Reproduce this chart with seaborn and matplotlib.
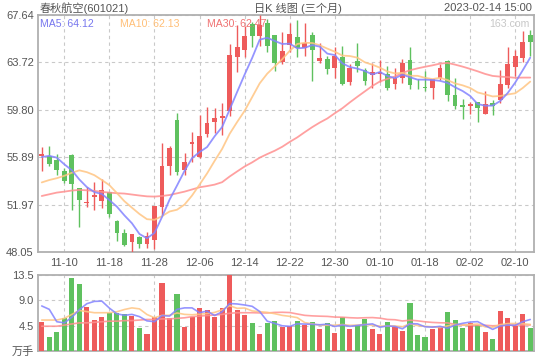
import numpy as np
import pandas as pd
import matplotlib
matplotlib.use("Agg")
import matplotlib.pyplot as plt
import seaborn as sns

# ---------------- data ----------------
dates = ["11-07", "11-08", "11-09", "11-10", "11-11", "11-14", "11-15", "11-16", "11-17", "11-18",
         "11-21", "11-22", "11-23", "11-24", "11-25", "11-28", "11-29", "11-30", "12-01", "12-02",
         "12-05", "12-06", "12-07", "12-08", "12-09", "12-12", "12-13", "12-14", "12-15", "12-16",
         "12-19", "12-20", "12-21", "12-22", "12-23", "12-26", "12-27", "12-28", "12-29", "12-30",
         "01-03", "01-04", "01-05", "01-06", "01-09", "01-10", "01-11", "01-12", "01-13", "01-16",
         "01-17", "01-18", "01-19", "01-20", "01-30", "01-31", "02-01", "02-02", "02-03", "02-06",
         "02-07", "02-08", "02-09", "02-10", "02-13", "02-14"]

opens = [55.96, 56.01, 55.62, 54.76, 56.04, 53.32, 52.11, 52.63, 52.24, 53.04,
         50.63, 49.58, 48.88, 49.25, 48.75, 49.02, 51.80, 55.13, 58.95, 54.85,
         56.95, 55.90, 57.84, 58.78, 59.12, 59.70, 64.19, 64.75, 66.90, 65.88,
         67.00, 66.00, 63.77, 65.16, 65.80, 64.89, 66.00, 63.86, 64.00, 63.30,
         64.15, 62.11, 63.80, 63.08, 62.67, 62.74, 62.78, 61.90, 62.44, 63.91,
         61.97, 61.72, 61.62, 62.44, 63.86, 61.00, 60.17, 60.10, 60.45, 59.45,
         60.39, 60.60, 61.84, 63.36, 64.08, 65.95]
highs = [56.73, 56.79, 56.18, 54.98, 56.18, 53.32, 53.46, 53.85, 54.07, 53.04,
         50.69, 49.92, 49.52, 49.41, 49.74, 51.85, 57.07, 56.85, 59.51, 56.23,
         58.01, 59.40, 60.06, 59.95, 60.39, 65.24, 66.83, 66.72, 67.10, 67.60,
         67.33, 66.00, 66.22, 66.99, 67.20, 66.99, 66.22, 65.33, 64.28, 64.97,
         65.05, 63.58, 65.33, 63.30, 63.66, 63.90, 63.39, 63.22, 64.00, 64.97,
         62.33, 63.03, 62.39, 63.58, 63.94, 62.47, 60.67, 60.45, 60.45, 61.36,
         60.61, 63.11, 64.97, 64.75, 66.35, 66.44]
lows = [54.71, 55.18, 54.43, 53.74, 51.52, 50.13, 51.74, 51.52, 51.66, 50.97,
        48.97, 48.53, 48.05, 48.42, 48.36, 48.33, 51.10, 54.43, 54.43, 54.43,
        55.46, 55.82, 57.56, 57.90, 57.76, 59.28, 62.94, 64.19, 64.97, 65.05,
        64.61, 63.03, 63.58, 64.55, 64.14, 64.28, 62.19, 63.66, 62.75, 62.47,
        61.84, 61.83, 62.94, 61.83, 61.60, 62.10, 61.45, 61.50, 62.00, 61.50,
        61.50, 61.36, 60.70, 62.28, 60.53, 59.84, 59.06, 59.42, 58.78, 59.42,
        59.34, 60.39, 61.64, 62.60, 63.72, 64.28]
closes = [56.18, 55.35, 54.85, 53.96, 53.71, 52.35, 52.21, 52.77, 53.18, 51.19,
          49.63, 48.61, 49.52, 48.75, 49.41, 51.85, 55.18, 56.65, 54.65, 55.46,
          57.12, 57.67, 58.73, 59.09, 59.29, 64.33, 64.97, 65.94, 65.94, 66.83,
          65.11, 63.66, 64.69, 66.08, 64.89, 65.33, 64.77, 64.05, 63.20, 64.28,
          61.92, 63.25, 63.39, 62.20, 62.90, 62.90, 61.61, 62.47, 63.66, 61.85,
          61.90, 61.60, 62.33, 63.30, 61.00, 60.11, 60.05, 60.30, 59.95, 60.30,
          60.15, 61.95, 63.60, 64.28, 65.38, 65.38]
volumes = [5.14, 2.54, 3.43, 5.85, 13.0, 11.87, 7.86, 5.49, 6.08, 6.79,
           6.79, 6.56, 6.30, 4.10, 3.00, 6.10, 12.0, 5.80, 10.1, 4.30,
           6.10, 7.70, 7.30, 6.10, 7.60, 13.47, 7.30, 6.40, 4.90, 3.00,
           4.90, 5.30, 4.30, 4.40, 5.30, 4.60, 5.10, 3.90, 4.90, 3.20,
           6.00, 3.90, 4.70, 5.60, 3.90, 3.00, 5.10, 4.20, 3.50, 8.50,
           2.80, 2.50, 3.90, 4.20, 6.90, 5.50, 4.10, 5.00, 4.60, 3.40,
           2.10, 7.10, 5.80, 4.40, 6.60, 4.10]

# moving-average values before a full window is available
ma5_head = [55.90, 56.00, 55.85, 55.30]
ma10_head = [53.80, 54.00, 54.15, 54.35, 54.60, 54.80, 54.65, 54.40, 54.00]
ma30_head = [52.68, 52.82, 52.96, 53.04, 53.13, 53.18, 53.15, 53.10, 53.02, 52.96,
             52.91, 52.88, 52.80, 52.72, 52.65, 52.63, 52.68, 52.76, 52.90, 53.04,
             53.22, 53.40, 53.50, 53.62, 53.82, 54.29, 54.71, 55.12, 55.46]
vma5_head = [8.0, 7.4, 5.2, 5.0]
vma10_head = [5.5, 5.5, 5.5, 5.8, 6.5, 7.2, 7.0, 6.8, 6.8]
vma30_head = [4.4, 4.4, 4.4, 4.6, 4.8, 5.0, 5.0, 5.1, 5.2, 5.3,
              5.3, 5.4, 5.4, 5.5, 5.6, 5.6, 5.7, 5.7, 5.8, 5.9,
              6.1, 6.2, 6.3, 6.4, 6.5, 6.7, 6.8, 6.8, 6.8]

price_ticks = [48.05, 51.97, 55.89, 59.80, 63.72, 67.64]
vol_ticks = [0, 4.5, 9.0, 13.5]
vol_tick_labels = ["万手", "4.5", "9.0", "13.5"]
title_left = "春秋航空(601021)"
title_mid = "日K 线图 (三个月)"
title_right = "2023-02-14 15:00"

# ---------------- styling ----------------
sns.set_style("white")
plt.rcParams["font.family"] = ["Liberation Sans", "Noto Sans CJK SC", "DejaVu Sans"]

RED = "#ee5b5b"
GREEN = "#5fc15f"
C5, C10, C30 = "#8383ff", "#ffc583", "#ff9090"
T5, T10, T30 = "#7777ee", "#ffbf77", "#f07272"
TXT = "#555555"
SPINE = "#b0b0b0"
GRID = "#c9c9c9"


def with_head(values, window, head):
    s = pd.Series(values, dtype=float).rolling(window).mean().to_numpy()
    s[:len(head)] = head
    return s


n = len(dates)
idx = np.arange(n)
o = np.array(opens); h = np.array(highs); l = np.array(lows); c = np.array(closes)
up = c >= o
colors = np.where(up, RED, GREEN)

df = pd.DataFrame({"idx": idx, "date": dates, "open": o, "high": h, "low": l,
                   "close": c, "vol": volumes})
df["ma5"] = with_head(closes, 5, ma5_head)
df["ma10"] = with_head(closes, 10, ma10_head)
df["ma30"] = with_head(closes, 30, ma30_head)
df["vma5"] = with_head(volumes, 5, vma5_head)
df["vma10"] = with_head(volumes, 10, vma10_head)
df["vma30"] = with_head(volumes, 30, vma30_head)

fig = plt.figure(figsize=(5.4, 3.6), dpi=100)
ax = fig.add_axes([38 / 540, 1 - 252 / 360, 496 / 540, 237 / 360])
axv = fig.add_axes([38 / 540, 1 - 351 / 360, 496 / 540, 76 / 360])

# ---------------- candles ----------------
ax.vlines(idx, l, h, colors=colors, linewidth=1.0, zorder=3)
body = np.maximum(np.abs(c - o), 0.07)
ax.bar(idx, body, bottom=np.minimum(o, c), width=0.64, color=colors,
       linewidth=0, edgecolor="none", zorder=4)

sns.lineplot(data=df, x="idx", y="ma30", ax=ax, color=C30, linewidth=1.3, alpha=0.85, zorder=5)
sns.lineplot(data=df, x="idx", y="ma10", ax=ax, color=C10, linewidth=1.3, alpha=0.85, zorder=5)
sns.lineplot(data=df, x="idx", y="ma5", ax=ax, color=C5, linewidth=1.3, alpha=0.85, zorder=5)

# ---------------- volume ----------------
sns.barplot(data=df, x="date", y="vol", hue="date", order=dates, hue_order=dates,
            palette=dict(zip(dates, colors)), width=0.68, saturation=1, dodge=False,
            legend=False, ax=axv, zorder=3, linewidth=0, edgecolor="none")
sns.lineplot(data=df, x="idx", y="vma30", ax=axv, color=C30, linewidth=1.2, alpha=0.85, zorder=5)
sns.lineplot(data=df, x="idx", y="vma10", ax=axv, color=C10, linewidth=1.2, alpha=0.85, zorder=5)
sns.lineplot(data=df, x="idx", y="vma5", ax=axv, color=C5, linewidth=1.2, alpha=0.85, zorder=5)

# ---------------- axes ----------------
tick_pos = list(range(3, n, 6))
tick_lab = [dates[i] for i in tick_pos]
for a in (ax, axv):
    a.set_xlim(-0.5, n - 0.5)
    a.set_xlabel("")
    a.set_ylabel("")
    a.set_xticks(tick_pos)
    for s in a.spines.values():
        s.set_visible(True)
        s.set_color(SPINE)
        s.set_linewidth(1.3)
    a.grid(True, color=GRID, linestyle=(0, (3, 3)), linewidth=0.8, zorder=0)
    a.set_axisbelow(True)
    a.tick_params(length=0, labelsize=8, labelcolor=TXT, pad=3)

ax.set_ylim(price_ticks[0], price_ticks[-1])
ax.set_yticks(price_ticks)
ax.set_yticklabels([f"{v:.2f}" for v in price_ticks])
ax.set_xticklabels(tick_lab)
ax.tick_params(axis="x", pad=4)

axv.set_ylim(0, 13.5)
axv.set_yticks(vol_ticks)
axv.set_yticklabels(vol_tick_labels)
axv.set_xticklabels([])

# ---------------- texts ----------------
fig.text(40 / 540, 1 - 8 / 360, title_left, ha="left", va="center", fontsize=8, color=TXT)
fig.text(298 / 540, 1 - 8 / 360, title_mid, ha="center", va="center", fontsize=8, color=TXT)
fig.text(532 / 540, 1 - 8 / 360, title_right, ha="right", va="center", fontsize=8, color=TXT)

ty = 1 - 24 / 360
fig.text(40 / 540, ty, f"MA5: {df['ma5'].iloc[-1]:.2f}", ha="left", va="center", fontsize=7.6, color=T5)
fig.text(120 / 540, ty, f"MA10: {df['ma10'].iloc[-1]:.2f}", ha="left", va="center", fontsize=7.6, color=T10)
fig.text(207 / 540, ty, f"MA30: {df['ma30'].iloc[-1]:.2f}", ha="left", va="center", fontsize=7.6, color=T30)
fig.text(530 / 540, ty, "163.com", ha="right", va="center", fontsize=7.6, color="#c8c8c8")

fig.savefig("out.png", dpi=100)
